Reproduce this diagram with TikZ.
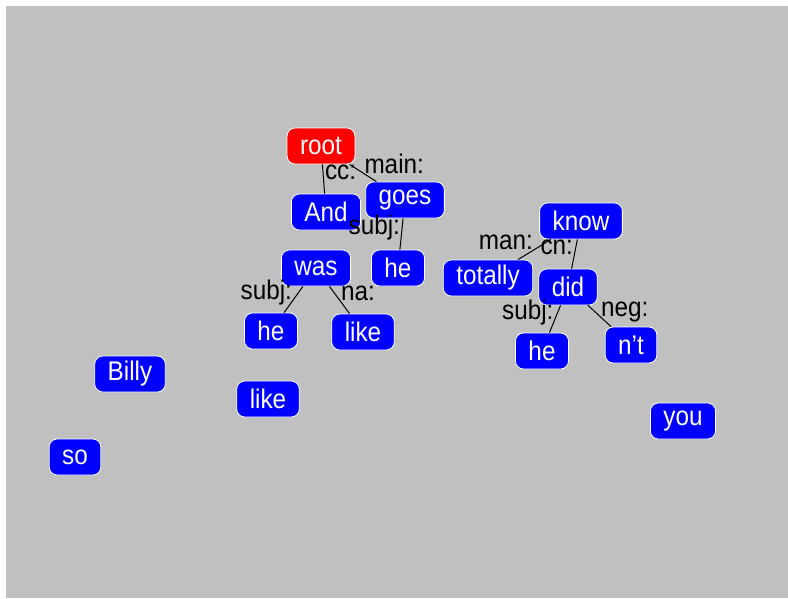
\documentclass[tikz,border=0pt]{standalone}
\usepackage{fontspec}
\setmainfont{Liberation Sans}[FakeStretch=0.9]
\definecolor{bgc}{HTML}{C0C0C0}
\definecolor{wordc}{HTML}{0000FF}
\definecolor{rootc}{HTML}{FF0000}
\tikzset{
  word/.style={draw=white, line width=0.8pt, fill=wordc, text=white, rounded corners=8pt, minimum height=36pt, inner xsep=13pt, font=\fontsize{27}{30}\selectfont},
  rel/.style={inner sep=1pt, font=\fontsize{27}{30}\selectfont},
  dep/.style={line width=1pt, black},
}
\begin{document}
\begin{tikzpicture}[x=1pt, y=-1pt]
  \useasboundingbox (0,0) rectangle (788,598);
  \fill[white] (0,0) rectangle (788,598);
  \fill[bgc] (6,6) rectangle (788,598);
  % words
  \node[word, fill=rootc] (root) at (321,146) {root};
  \node[word] (and) at (326,212) {And};
  \node[word] (goes) at (405,200) {goes};
  \node[word] (was) at (316,268) {was};
  \node[word] (heA) at (398,268) {he};
  \node[word] (heB) at (271,331) {he};
  \node[word] (likeA) at (363,332) {like};
  \node[word] (billy) at (130,374) {Billy};
  \node[word] (likeB) at (268,399) {like};
  \node[word] (so) at (75,457) {so};
  \node[word] (know) at (581,221) {know};
  \node[word] (totally) at (488,278) {totally};
  \node[word] (did) at (568,287) {did};
  \node[word] (heC) at (542,351) {he};
  \node[word] (nt) at (631,345) {n't};
  \node[word] (you) at (683,421) {you};
  % dependencies
  \draw[dep] (root) -- node[rel, anchor=base west] {cc:} (and);
  \draw[dep] (root) -- node[rel, anchor=base west] {main:} (goes);
  \draw[dep] (goes) -- node[rel, anchor=base east] {subj:} (heA);
  \draw[dep] (was) -- node[rel, anchor=base east] {subj:} (heB);
  \draw[dep] (was) -- node[rel, anchor=base west] {na:} (likeA);
  \draw[dep] (know) -- node[rel, anchor=base east] {man:} (totally);
  \draw[dep] (know) -- node[rel, anchor=base east] {cn:} (did);
  \draw[dep] (did) -- node[rel, anchor=base east] {subj:} (heC);
  \draw[dep] (did) -- node[rel, anchor=base west] {neg:} (nt);
\end{tikzpicture}
\end{document}
